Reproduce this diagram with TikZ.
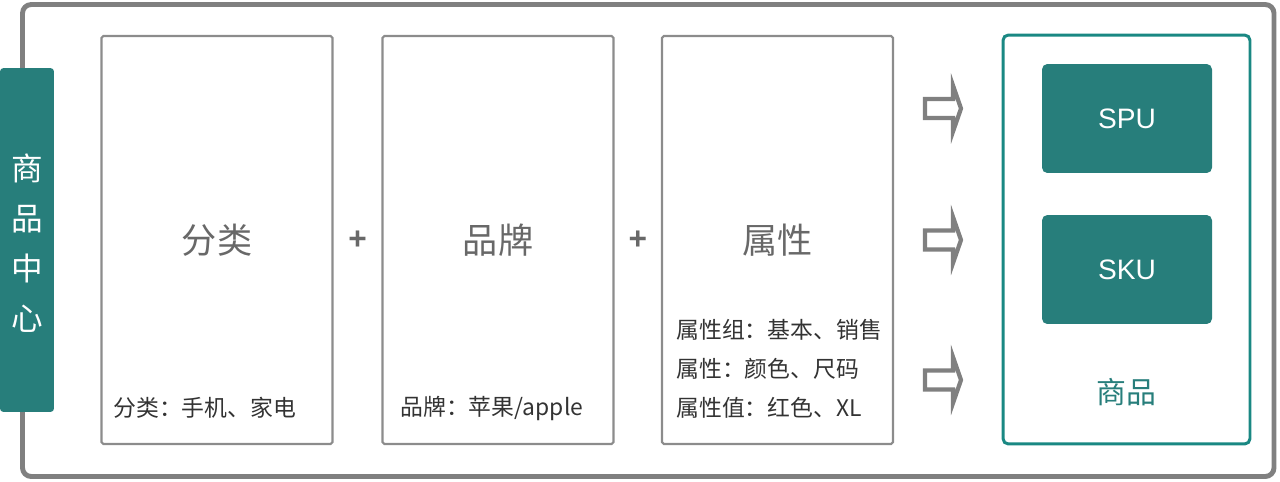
\documentclass[tikz,border=0pt]{standalone}
\usepackage{fontspec}
\setmainfont{Noto Sans CJK SC}
\newfontfamily\latinfont{Liberation Sans}
\usetikzlibrary{positioning,calc}
\definecolor{tealdark}{HTML}{277E7B}
\definecolor{tealline}{HTML}{1A8883}
\definecolor{framegray}{HTML}{808080}
\definecolor{boxgray}{HTML}{8C8C8C}
\definecolor{titlegray}{HTML}{686868}
\definecolor{textdark}{HTML}{333333}

\begin{document}
\begin{tikzpicture}[x=0.02cm, y=-0.02cm,
  catbox/.style={draw=boxgray, line width=1.2pt, rounded corners=1pt,
                 minimum width=4.62cm, minimum height=8.16cm, inner sep=0pt},
  cattitle/.style={text=titlegray, font=\fontsize{20}{24}\selectfont},
  catnote/.style={text=textdark, font=\fontsize{13}{15}\selectfont,
                  anchor=west, inner sep=0pt},
  plussign/.style={text=titlegray, font=\latinfont\bfseries\fontsize{18}{20}\selectfont},
  unitbox/.style={fill=tealdark, rounded corners=3pt, minimum width=3.4cm,
                  minimum height=2.18cm, text=white, font=\latinfont\fontsize{16}{18}\selectfont},
  hollowarrow/.style={draw=framegray, line width=2.4pt, line join=miter}]
  \useasboundingbox (0,0) rectangle (1280,481);

  % outer frame and side label
  \draw[framegray, line width=2.8pt, rounded corners=5pt] (22.5,4.5) rectangle (1274,476.5);
  \node[fill=tealdark, rounded corners=2pt, minimum width=1.08cm, minimum height=6.88cm] (hub) at (27,240) {};
  \node[text=white, align=center, font=\fontsize{18}{28.35}\selectfont] (hubtext) at ([yshift=-0.06cm]hub) {商\\品\\中\\心};

  % the three parts
  \node[catbox] (cat) at (217,240) {};
  \node[catbox] (brand) at (498,240) {};
  \node[catbox] (attr) at (777.5,240) {};
  \node[cattitle] (cattitle) at (cat) {分类};
  \node[cattitle] (brandtitle) at (brand) {品牌};
  \node[cattitle] (attrtitle) at (attr) {属性};
  \node[plussign] (plusa) at ($(cat.east)!0.5!(brand.west)$) {+};
  \node[plussign] (plusb) at ($(brand.east)!0.5!(attr.west)$) {+};

  \node[catnote] (catnote) at (113,408) {分类：手机、家电};
  \node[catnote] (brandnote) at (400,408) {品牌：苹果/apple};
  \node[catnote] (attrnote) at (676,408) {属性值：红色、XL};
  \node[catnote, above=0.35cm of attrnote.north west, anchor=south west] (attrnoteb) {属性：颜色、尺码};
  \node[catnote, above=0.35cm of attrnoteb.north west, anchor=south west] (attrnotec) {属性组：基本、销售};

  % hollow arrows
  \foreach \c in {108.5,240,380}
    \draw[hollowarrow] (925,\c-9.5) -- (953,\c-9.5) -- (953,\c-23) -- (961,\c)
      -- (953,\c+23) -- (953,\c+9.5) -- (925,\c+9.5) -- cycle;

  % result
  \node[draw=tealline, line width=1.7pt, rounded corners=3pt, minimum width=4.94cm,
        minimum height=8.18cm] (goods) at (1126.5,239.5) {};
  \node[unitbox] (spu) at (1127,118.5) {SPU};
  \node[unitbox] (sku) at (1127,269.5) {SKU};
  \node[text=tealdark, font=\fontsize{17}{20}\selectfont] (goodstext) at (1126,392) {商品};
\end{tikzpicture}
\end{document}
